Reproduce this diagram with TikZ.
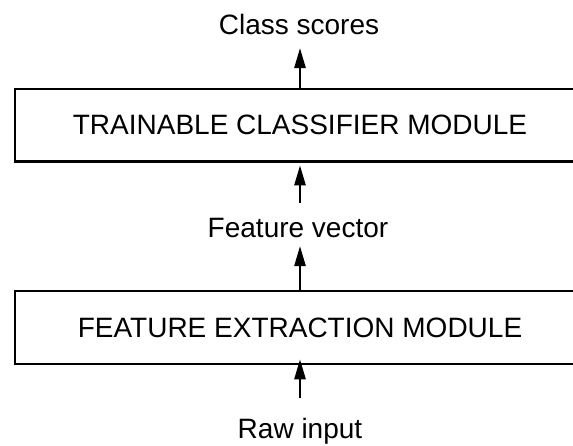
\documentclass[tikz,border=0pt]{standalone}
\usepackage{fontspec}
\setmainfont{Liberation Sans}
\usetikzlibrary{arrows.meta}
\begin{document}
\begin{tikzpicture}[x=1pt,y=-1pt,
  lbl/.style={anchor=base,inner sep=0pt,font=\fontsize{28}{34}\selectfont},
  module/.style={draw,line width=2.5pt,minimum width=570pt,inner sep=0pt,font=\fontsize{28}{34}\selectfont},
  arr/.style={line width=2.5pt,-{Triangle[length=20pt,width=11pt]}}]
\clip (0,0) rectangle (573,445);
\fill[white] (0,0) rectangle (573,445);
\node[module,minimum height=72.5pt] (cls) at (300,125.3) {TRAINABLE CLASSIFIER MODULE};
\node[module,minimum height=73pt] (fem) at (300,327.5) {FEATURE EXTRACTION MODULE};
\node[lbl] (cs) at (299,34) {Class scores};
\node[lbl] (fv) at (298,237) {Feature vector};
\node[lbl] (raw) at (300,438) {Raw input};
\draw[arr] (cls.north) -- ([yshift=-14pt]cs.base -| cls.north);
\draw[arr] ([yshift=34pt]fv.base -| cls.south) -- ([yshift=-2.5pt]cls.south);
\draw[arr] (fem.north) -- ([yshift=-9pt]fv.base -| fem.north);
\draw[arr] ([yshift=40pt]raw.base -| fem.south) -- ([yshift=6pt]fem.south);
\end{tikzpicture}
\end{document}
